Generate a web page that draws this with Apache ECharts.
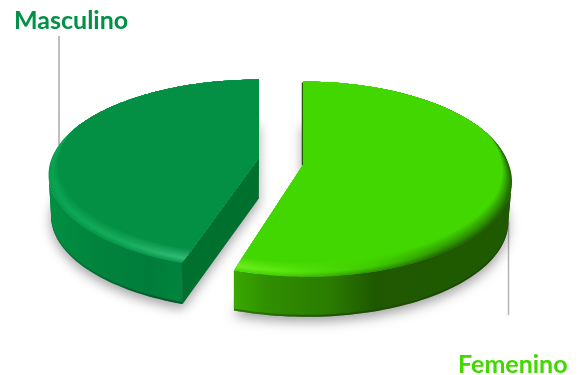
<!DOCTYPE html>
<html>
<head>
<meta charset="utf-8">
<style>html,body{margin:0;padding:0;background:#fff}#chart{width:579px;height:375px}</style>
<script src="https://cdn.jsdelivr.net/npm/echarts@6/dist/echarts.min.js"></script>
</head>
<body>
<div id="chart"></div>
<script>
// Gender split, drawn as an exploded pie with a tilted 3D look.
const categories = ['Masculino', 'Femenino'];
const shares = [45, 55];

// Look of each wedge: tilted-circle projection, shading stops, label and leader line.
const wedgeStyles = [
  {
    cx: 259, cy: 157.5, A: 207, B: 92, k: 0.18, depth: 41, shear: 0, cutFace: true,
    face: '#038f44', wall: '#00702f',
    sideEdgeStops: [[50, '#007a37'], [110, '#006a30'], [182, '#005526']],
    sideStops: [[50, '#008f42'], [100, '#00833d'], [150, '#007c3a'], [182, '#00843d']],
    rimX: [50, 120, 182],
    rimEdge: ['#049a4c', '#049a4c', '#06a052'],
    rimHigh: ['#0aa552', '#16ad5c', '#34bb76'],
    labelColor: '#009146', labelX: 14, labelY: 21,
    lead: [59, 36, 59, 145], leadColor: '#a8a8a8'
  },
  {
    cx: 303, cy: 165, A: 206, B: 95.6, k: 0.145, depth: 40, shear: 5, cutFace: false,
    face: '#43d700', wall: '#1f5a00',
    sideEdgeStops: [[235, '#2a7a00'], [330, '#1d5200'], [510, '#174500']],
    sideStops: [[235, '#3aa800'], [270, '#2f8d00'], [330, '#2a7c00'], [375, '#1f5800'], [510, '#1f5a00']],
    rimX: [235, 290, 370, 440, 511],
    rimEdge: ['#4dd80a', '#44cc00', '#2f9a00', '#226c00', '#1f6000'],
    rimHigh: ['#6cf020', '#58e60c', '#3ecb00', '#2e9a00', '#2a8400'],
    labelColor: '#43d700', labelX: 458, labelY: 365,
    lead: [508.5, 222, 508.5, 315], leadColor: '#b4b4b4'
  }
];

const RIM_LAYERS = 12;
const RIM_DEPTH = 0.13;
const FLOOR_X = 235;
const FLOOR_SCALE = 0.987;

function hexToRgb(h) {
  return [1, 3, 5].map(function (i) { return parseInt(h.substr(i, 2), 16); });
}
function mix(a, b, f) {
  const p = hexToRgb(a), q = hexToRgb(b);
  return '#' + p.map(function (c, i) {
    return ('0' + Math.round(c + (q[i] - c) * f).toString(16)).slice(-2);
  }).join('');
}
function xGradient(stops) {
  const x0 = stops[0][0], x1 = stops[stops.length - 1][0];
  return {
    type: 'linear', x: x0, y: 0, x2: x1, y2: 0, global: true,
    colorStops: stops.map(function (s) { return { offset: (s[0] - x0) / (x1 - x0), color: s[1] }; })
  };
}

// Unit-circle point at the given clockwise angle from the back, seen in perspective.
function project(s, deg) {
  const r = deg * Math.PI / 180;
  const u = Math.sin(r), v = -Math.cos(r), w = 1 - s.k * v;
  return { x: s.cx + s.A * u / w + s.shear * Math.max(0, v), y: s.cy + s.B * v / w, v: v };
}
function floor(s, p, lift) {
  return [FLOOR_X + (p.x - FLOOR_X) * FLOOR_SCALE, p.y + s.depth - (lift || 0)];
}
function sampleRim(s, from, to) {
  const pts = [];
  const n = Math.ceil(Math.abs(to - from) / 1.5);
  for (let i = 0; i <= n; i++) pts.push(project(s, from + (to - from) * i / n));
  return pts;
}

function renderWedge(params, api) {
  const i = params.dataIndex;
  const s = wedgeStyles[i];
  const total = shares.reduce(function (a, b) { return a + b; }, 0);
  let from = -shares[0] / total * 360;
  for (let j = 0; j < i; j++) from += shares[j] / total * 360;
  const to = from + api.value(0) / total * 360;

  const rim = sampleRim(s, from, to);
  const apex = { x: s.cx, y: s.cy, v: 0 };
  const children = [];

  // Leader line, tucked beneath the wedge.
  children.push({
    type: 'line', silent: true,
    shape: { x1: s.lead[0], y1: s.lead[1], x2: s.lead[2], y2: s.lead[3] },
    style: { stroke: s.leadColor, lineWidth: 1.5 }
  });

  // Soft shadow cast by the underside.
  children.push({
    type: 'polygon', silent: true,
    shape: { points: [floor(s, apex)].concat(rim.map(function (p) { return floor(s, p); })) },
    style: { fill: '#777777', shadowBlur: 12, shadowOffsetY: 5, shadowColor: 'rgba(0,0,0,0.36)' }
  });

  // Curved outer side: only the part of the rim between the front corner and the
  // sideways extreme shows, and the two curves join there with a straight drop.
  let ext = 0;
  rim.forEach(function (p, n) {
    if (Math.abs(p.x - s.cx) > Math.abs(rim[ext].x - s.cx)) ext = n;
  });
  const front = rim[0].v > rim[rim.length - 1].v ? rim.slice(0, ext + 1) : rim.slice(ext);
  const top = front.map(function (p) { return [p.x, p.y]; });
  const low = front.map(function (p) { return floor(s, p); }).reverse();
  const lowInner = front.map(function (p) { return floor(s, p, 2); }).reverse();
  children.push({ type: 'polygon', silent: true, shape: { points: top.concat(low) }, style: { fill: xGradient(s.sideEdgeStops) } });
  children.push({ type: 'polygon', silent: true, shape: { points: top.concat(lowInner) }, style: { fill: xGradient(s.sideStops) } });

  // Flat cut faces: one turned towards the viewer, the other seen as a thin edge.
  [rim[0], rim[rim.length - 1]].forEach(function (end) {
    if (end.v > 0.5) {
      if (s.cutFace) {
        children.push({
          type: 'polygon', silent: true,
          shape: { points: [[apex.x, apex.y], [end.x, end.y], floor(s, end), floor(s, apex)] },
          style: { fill: s.wall }
        });
      }
    } else if (!s.cutFace) {
      children.push({
        type: 'line', silent: true,
        shape: { x1: end.x - 0.5, y1: end.y + 1, x2: apex.x - 0.5, y2: apex.y },
        style: { stroke: s.wall, lineWidth: 1.5 }
      });
    }
  });

  // Top surface: concentric steps from the rounded rim in to the flat face colour.
  for (let l = 0; l <= RIM_LAYERS; l++) {
    const f = l / RIM_LAYERS;
    const stops = s.rimX.map(function (x, n) {
      const c = f < 0.3
        ? mix(s.rimEdge[n], s.rimHigh[n], f / 0.3)
        : mix(s.rimHigh[n], s.face, (f - 0.3) / 0.7);
      return [x, c];
    });
    const pts = rim.map(function (p) {
      const toward = Math.max(0, Math.min(1, (p.v + 0.35) / 1.35));
      const t = RIM_DEPTH * f * toward;
      return [p.x + (apex.x - p.x) * t, p.y + (apex.y - p.y) * t];
    });
    children.push({
      type: 'polygon', silent: true,
      shape: { points: [[apex.x, apex.y]].concat(pts) },
      style: { fill: l === RIM_LAYERS ? s.face : xGradient(stops) }
    });
  }

  // Category name.
  children.push({
    type: 'text', silent: true,
    style: {
      text: categories[i],
      x: s.labelX, y: s.labelY, verticalAlign: 'middle',
      font: 'bold 25px Lato, "Open Sans", sans-serif',
      fill: s.labelColor
    }
  });

  return { type: 'group', children: children };
}

const chart = echarts.init(document.getElementById('chart'), null, { renderer: 'canvas' });
chart.setOption({
  animation: false,
  backgroundColor: '#ffffff',
  series: [{
    type: 'custom',
    coordinateSystem: 'none',
    silent: true,
    renderItem: renderWedge,
    data: categories.map(function (name, i) { return { name: name, value: [shares[i]] }; })
  }]
});
</script>
</body>
</html>
